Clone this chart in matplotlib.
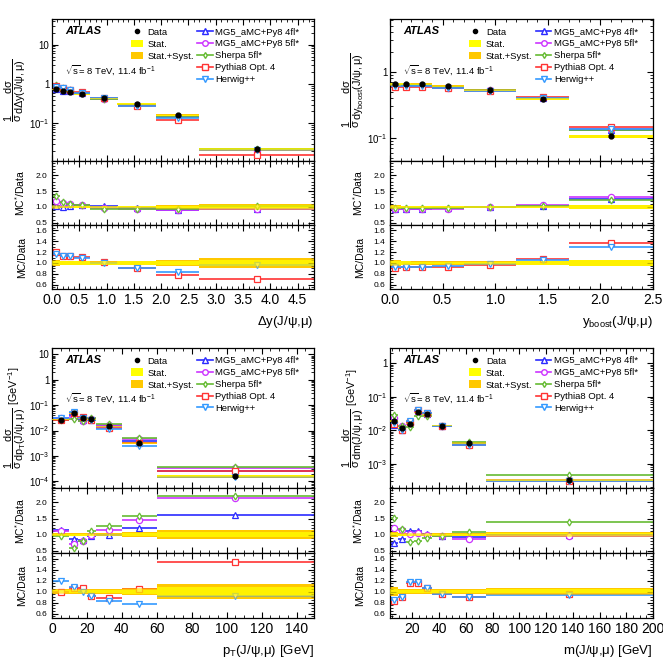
import numpy as np
import matplotlib
matplotlib.use('Agg')
import matplotlib.pyplot as plt
from matplotlib.ticker import MultipleLocator, LogLocator, FuncFormatter, NullFormatter
from matplotlib.lines import Line2D
from matplotlib.patches import Patch

plt.rcParams['font.family'] = ['Liberation Sans', 'DejaVu Sans']
plt.rcParams['mathtext.fontset'] = 'custom'
plt.rcParams['mathtext.rm'] = 'Liberation Sans'
plt.rcParams['mathtext.it'] = 'Liberation Sans:italic'
plt.rcParams['mathtext.default'] = 'regular'

# --- Delta y(J/psi, mu) ---
dy_edges = [0, 0.15, 0.25, 0.4, 0.7, 1.2, 1.9, 2.7, 4.8]
dy_data = [0.73, 0.68, 0.64, 0.55, 0.43, 0.31, 0.16, 0.022]
dy_stat = [0.03, 0.03, 0.03, 0.03, 0.03, 0.03, 0.04, 0.06]
dy_tot = [0.05, 0.04, 0.04, 0.04, 0.04, 0.04, 0.05, 0.10]
dy_mg4 = [1.02, 1.00, 1.03, 1.05, 1.02, 0.97, 0.90, 0.93]
dy_mg5 = [1.20, 1.12, 1.08, 1.05, 0.98, 0.95, 0.90, 0.95]
dy_sherpa = [1.33, 1.15, 1.10, 1.05, 0.95, 0.92, 0.92, 1.03]
dy_py8 = [1.20, 1.13, 1.13, 1.11, 1.01, 0.91, 0.77, 0.70]
dy_herwig = [1.17, 1.13, 1.12, 1.10, 1.00, 0.91, 0.83, 0.97]

# --- y_boost(J/psi, mu) ---
yb_edges = [0, 0.1, 0.2, 0.4, 0.7, 1.2, 1.7, 2.5]
yb_data = [0.65, 0.65, 0.65, 0.61, 0.53, 0.385, 0.106]
yb_stat = [0.03, 0.03, 0.02, 0.02, 0.02, 0.03, 0.05]
yb_tot = [0.05, 0.04, 0.03, 0.03, 0.03, 0.04, 0.06]
yb_mg4 = [0.94, 0.95, 0.95, 0.96, 0.99, 1.03, 1.24]
yb_mg5 = [0.93, 0.95, 0.94, 0.95, 0.99, 1.05, 1.30]
yb_sherpa = [0.97, 0.97, 0.96, 0.98, 0.99, 1.03, 1.23]
yb_py8 = [0.91, 0.92, 0.92, 0.93, 0.97, 1.07, 1.37]
yb_herwig = [0.93, 0.93, 0.93, 0.94, 0.98, 1.05, 1.29]

# --- pT(J/psi, mu) ---
pt_edges = [0, 10, 15, 20, 25, 40, 60, 150]
pt_data = [0.027, 0.048, 0.031, 0.028, 0.0145, 0.0032, 0.00016]
pt_stat = [0.03, 0.03, 0.03, 0.03, 0.03, 0.04, 0.08]
pt_tot = [0.04, 0.04, 0.04, 0.04, 0.04, 0.07, 0.13]
pt_mg4 = [1.15, 0.85, 0.82, 0.97, 1.00, 1.20, 1.60]
pt_mg5 = [1.12, 0.72, 0.80, 1.00, 1.15, 1.45, 2.15]
pt_sherpa = [0.97, 0.60, 0.80, 1.10, 1.27, 1.58, 2.20]
pt_py8 = [1.00, 1.07, 1.06, 0.92, 0.89, 1.05, 1.53]
pt_herwig = [1.20, 1.08, 1.00, 0.92, 0.82, 0.78, 0.92]

# --- m(J/psi, mu) ---
m_edges = [3.3, 9, 15, 21, 27, 35, 50, 75, 200]
m_data = [0.019, 0.0115, 0.0155, 0.034, 0.030, 0.0137, 0.0041, 0.00033]
m_stat = [0.05, 0.03, 0.03, 0.03, 0.03, 0.03, 0.03, 0.04]
m_tot = [0.08, 0.04, 0.04, 0.04, 0.04, 0.05, 0.05, 0.07]
m_mg4 = [0.75, 0.88, 1.10, 1.12, 1.03, 0.97, 0.93, 0.98]
m_mg5 = [1.22, 1.15, 1.02, 1.05, 1.00, 0.95, 0.88, 0.97]
m_sherpa = [1.52, 1.18, 0.78, 0.80, 0.90, 0.96, 1.08, 1.40]
m_py8 = [0.82, 0.90, 1.15, 1.15, 1.07, 0.96, 0.90, 0.95]
m_herwig = [0.85, 0.90, 1.18, 1.18, 1.07, 0.95, 0.90, 0.93]

YELLOW = '#ffff00'
ORANGE = '#ffc800'
STYLE = {
    'mg4': ('#2b2bff', '^', 4.5, 'MG5_aMC+Py8 4fl*'),
    'mg5': ('#cc33ff', 'o', 4.5, 'MG5_aMC+Py8 5fl*'),
    'sherpa': ('#66bb33', 'd', 3.5, 'Sherpa 5fl*'),
    'py8': ('#ff3333', 's', 4.5, 'Pythia8 Opt. 4'),
    'herwig': ('#3399ff', 'v', 4.5, 'Herwig++'),
}
MC_KEYS = ['mg4', 'mg5', 'sherpa', 'py8', 'herwig']

panels = [
    dict(edges=dy_edges, data=dy_data, stat=dy_stat, tot=dy_tot, mg4=dy_mg4, mg5=dy_mg5,
         sherpa=dy_sherpa, py8=dy_py8, herwig=dy_herwig, xlim=(0, 4.8), xmaj=0.5, xmin=0.1,
         ylim=(0.011, 45), xlabel=r'$\Delta$y(J/$\psi$,$\mu$)',
         ylabel=r'$\dfrac{1}{\sigma}\dfrac{d\sigma}{d\Delta y(J/\psi,\mu)}$'),
    dict(edges=yb_edges, data=yb_data, stat=yb_stat, tot=yb_tot, mg4=yb_mg4, mg5=yb_mg5,
         sherpa=yb_sherpa, py8=yb_py8, herwig=yb_herwig, xlim=(0, 2.5), xmaj=0.5, xmin=0.1,
         ylim=(0.045, 6.3), xlabel=r'y$_{boost}$(J/$\psi$,$\mu$)',
         ylabel=r'$\dfrac{1}{\sigma}\dfrac{d\sigma}{dy_{boost}(J/\psi,\mu)}$'),
    dict(edges=pt_edges, data=pt_data, stat=pt_stat, tot=pt_tot, mg4=pt_mg4, mg5=pt_mg5,
         sherpa=pt_sherpa, py8=pt_py8, herwig=pt_herwig, xlim=(0, 150), xmaj=20, xmin=5,
         ylim=(5.4e-5, 18), xlabel=r'p$_{T}$(J/$\psi$,$\mu$) [GeV]',
         ylabel=r'$\dfrac{1}{\sigma}\dfrac{d\sigma}{dp_{T}(J/\psi,\mu)}$ [GeV$^{-1}$]'),
    dict(edges=m_edges, data=m_data, stat=m_stat, tot=m_tot, mg4=m_mg4, mg5=m_mg5,
         sherpa=m_sherpa, py8=m_py8, herwig=m_herwig, xlim=(3.3, 200), xmaj=20, xmin=5,
         ylim=(1.9e-4, 2.8), xlabel=r'm(J/$\psi$,$\mu$) [GeV]',
         ylabel=r'$\dfrac{1}{\sigma}\dfrac{d\sigma}{dm(J/\psi,\mu)}$ [GeV$^{-1}$]'),
]

W, H = 663, 660
fig = plt.figure(figsize=(W / 100, H / 100), dpi=100)


def rect(l, r, t, b):
    return [l / W, 1 - b / H, (r - l) / W, (b - t) / H]


def logfmt(v, pos):
    e = int(round(np.log10(v)))
    if e == 0:
        return '1'
    if e == 1:
        return '10'
    return r'$10^{%d}$' % e


def style_axis(ax):
    ax.tick_params(which='both', direction='in', top=True, right=True)
    ax.tick_params(which='major', length=4, width=0.8)
    ax.tick_params(which='minor', length=2, width=0.6)
    for s in ax.spines.values():
        s.set_linewidth(0.9)


def draw_mc(ax, key, lo, hi, ctr, vals):
    c, m, ms, _ = STYLE[key]
    ax.hlines(vals, lo, hi, color=c, lw=1.2, zorder=2)
    ax.plot(ctr, vals, ls='none', marker=m, ms=ms, mfc='white', mec=c, mew=0.9, zorder=2)


def draw_band(ax, ctr, wid, center, stat, tot):
    # opaque band underneath, half transparent copy on top (tints the lines inside)
    for z, a in ((1, 1.0), (3, 0.5)):
        ax.bar(ctr, 2 * tot * center, bottom=center * (1 - tot), width=wid, color=ORANGE,
               alpha=a, lw=0, zorder=z)
        ax.bar(ctr, 2 * stat * center, bottom=center * (1 - stat), width=wid, color=YELLOW,
               alpha=a, lw=0, zorder=z)


cols = [(52, 314), (390, 653)]
rows = [(19, 161, 225, 289), (348, 488, 553, 618)]

for i, p in enumerate(panels):
    l, r = cols[i % 2]
    t, m1, m2, b = rows[i // 2]
    ax0 = fig.add_axes(rect(l, r, t, m1))
    ax1 = fig.add_axes(rect(l, r, m1, m2))
    ax2 = fig.add_axes(rect(l, r, m2, b))

    edges = np.array(p['edges'])
    lo, hi = edges[:-1], edges[1:]
    ctr = (lo + hi) / 2
    wid = hi - lo
    data = np.array(p['data'])
    stat = np.array(p['stat'])
    tot = np.array(p['tot'])

    # main panel
    for key in MC_KEYS:
        draw_mc(ax0, key, lo, hi, ctr, data * np.array(p[key]))
    draw_band(ax0, ctr, wid, data, stat, tot)
    ax0.plot(ctr, data, 'o', color='k', ms=3.5, zorder=5)
    ax0.set_yscale('log')
    ax0.set_ylim(*p['ylim'])
    ax0.yaxis.set_major_locator(LogLocator(base=10, numticks=12))
    ax0.yaxis.set_minor_locator(LogLocator(base=10, subs=np.arange(2, 10), numticks=12))
    ax0.yaxis.set_major_formatter(FuncFormatter(logfmt))
    ax0.yaxis.set_minor_formatter(NullFormatter())
    ax0.set_ylabel(p['ylabel'], fontsize=7.8)
    ax0.yaxis.set_label_coords(-0.092, 0.5)

    # MC* / Data
    ones = np.ones_like(data)
    draw_band(ax1, ctr, wid, ones, stat, tot)
    for key in ['mg4', 'mg5', 'sherpa']:
        draw_mc(ax1, key, lo, hi, ctr, np.array(p[key]))
    ax1.set_ylim(0.43, 2.45)
    ax1.yaxis.set_major_locator(MultipleLocator(0.5))
    ax1.yaxis.set_minor_locator(MultipleLocator(0.1))
    ax1.set_ylabel(r'MC$^{*}$/Data', fontsize=7.5)
    ax1.yaxis.set_label_coords(-0.095, 0.5)

    # MC / Data
    draw_band(ax2, ctr, wid, ones, stat, tot)
    for key in ['py8', 'herwig']:
        draw_mc(ax2, key, lo, hi, ctr, np.array(p[key]))
    ax2.set_ylim(0.52, 1.7)
    ax2.yaxis.set_major_locator(MultipleLocator(0.2))
    ax2.yaxis.set_minor_locator(MultipleLocator(0.05))
    ax2.set_ylabel('MC/Data', fontsize=7.5)
    ax2.yaxis.set_label_coords(-0.095, 0.5)
    ax2.set_xlabel(p['xlabel'], fontsize=9.5, loc='right', labelpad=5)

    for ax in (ax0, ax1, ax2):
        ax.set_xlim(*p['xlim'])
        ax.xaxis.set_major_locator(MultipleLocator(p['xmaj']))
        ax.xaxis.set_minor_locator(MultipleLocator(p['xmin']))
        style_axis(ax)
    ax0.tick_params(labelbottom=False)
    ax0.tick_params(axis='y', labelsize=7, pad=2)
    ax1.tick_params(labelbottom=False, labelsize=6)
    ax2.tick_params(axis='y', labelsize=6)
    ax2.tick_params(axis='x', labelsize=10, pad=3)

    # texts and legends
    ax0.text(0.05, 0.915, 'ATLAS', transform=ax0.transAxes, fontsize=8, fontweight='bold',
             fontstyle='italic', va='center')
    ax0.text(0.05, 0.64, r'$\sqrt{s}$= 8 TeV, 11.4 fb$^{-1}$', transform=ax0.transAxes,
             fontsize=6.8, va='center')
    h1 = [Line2D([], [], ls='none', marker='o', color='k', ms=3),
          Patch(color=YELLOW, lw=0), Patch(color=ORANGE, lw=0)]
    leg1 = ax0.legend(h1, ['Data', 'Stat.', 'Stat.+Syst.'], loc='upper left',
                      bbox_to_anchor=(0.3, 0.94), frameon=False, fontsize=6.8,
                      handlelength=1.3, handleheight=0.9, labelspacing=0.3,
                      handletextpad=0.5, borderaxespad=0, borderpad=0)
    ax0.add_artist(leg1)
    h2 = [Line2D([], [], color=STYLE[k][0], marker=STYLE[k][1], ms=STYLE[k][2] - 0.5,
                 mfc='white', lw=1.2) for k in MC_KEYS]
    ax0.legend(h2, [STYLE[k][3] for k in MC_KEYS],
               loc='upper left', bbox_to_anchor=(0.555, 0.94), frameon=False, fontsize=6.8,
               handlelength=1.6, labelspacing=0.3, handletextpad=0.3, borderaxespad=0,
               borderpad=0)

fig.savefig('out.png', dpi=100)
